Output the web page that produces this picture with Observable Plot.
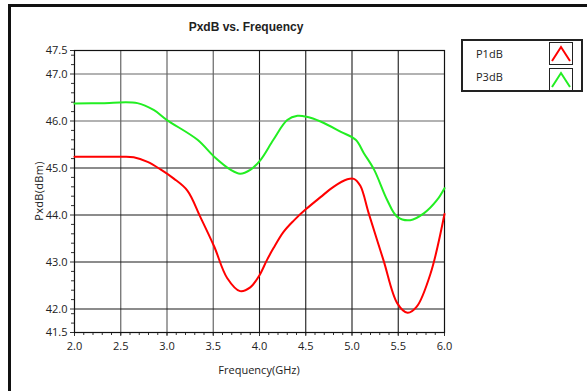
<!DOCTYPE html>
<html>
<head>
<meta charset="utf-8">
<script src="https://cdn.jsdelivr.net/npm/d3@7"></script>
<script src="https://cdn.jsdelivr.net/npm/@observablehq/plot@0.6"></script>
<style>
  html, body { margin: 0; padding: 0; background: #fff; }
  #wrap { position: relative; width: 587px; height: 391px; overflow: hidden; font-family: "Open Sans", "DejaVu Sans", sans-serif; color: #222; }
  #border { position: absolute; left: 8px; top: 4px; width: 600px; height: 400px; border-left: 3px solid #111; border-top: 3px solid #111; box-sizing: border-box; pointer-events: none; }
  .lbl { position: absolute; white-space: nowrap; }
  #title { left: 246px; top: 20px; transform: translateX(-50%); font-weight: bold; font-size: 12px; font-family: "Liberation Sans", Arial, sans-serif; }
  #xlabel { left: 259px; top: 362px; transform: translateX(-50%); font-size: 11px; }
  #ylabel { left: 38px; top: 191px; transform: translate(-50%, -50%) rotate(-90deg); font-size: 11px; letter-spacing: 0.3px; }
  #legend { position: absolute; left: 461px; top: 39px; width: 122px; height: 53px; border: 2px solid #222; box-sizing: border-box; background: #fff; }
  .lrow { position: absolute; left: 13px; font-size: 11px; }
  .icon { position: absolute; left: 86px; width: 24px; height: 23px; border: 1px solid #222; box-sizing: border-box; }
</style>
</head>
<body>
<div id="wrap">
  <div id="chart"></div>
  <div id="border"></div>
  <div id="title" class="lbl">PxdB vs. Frequency</div>
  <div id="xlabel" class="lbl">Frequency(GHz)</div>
  <div id="ylabel" class="lbl">PxdB(dBm)</div>
  <div id="legend"></div>
</div>
<script>
// ---- data ----
const seriesNames = ["P1dB", "P3dB"];
const seriesColors = ["#ff0000", "#22ee22"];

const p1Freq = [2.0, 2.3, 2.5, 2.64, 2.79, 2.93, 3.07, 3.22, 3.36, 3.51, 3.65, 3.79, 3.90, 4.0, 4.08, 4.15, 4.26, 4.37, 4.50, 4.66, 4.80, 4.95, 5.02, 5.09, 5.18, 5.34, 5.49, 5.60, 5.70, 5.85, 6.0];
const p1Vals = [45.24, 45.24, 45.24, 45.23, 45.13, 44.97, 44.78, 44.52, 43.96, 43.33, 42.66, 42.38, 42.46, 42.72, 43.04, 43.29, 43.64, 43.88, 44.12, 44.38, 44.60, 44.76, 44.77, 44.62, 44.04, 43.04, 42.12, 41.92, 42.05, 42.76, 44.02];

const p3Freq = [2.0, 2.3, 2.68, 2.86, 3.0, 3.33, 3.51, 3.69, 3.79, 3.90, 4.01, 4.15, 4.30, 4.41, 4.51, 4.66, 4.88, 5.04, 5.13, 5.24, 5.38, 5.49, 5.63, 5.78, 5.92, 6.0];
const p3Vals = [46.37, 46.38, 46.38, 46.23, 46.02, 45.60, 45.24, 44.96, 44.88, 44.96, 45.17, 45.60, 46.02, 46.11, 46.09, 45.99, 45.77, 45.60, 45.31, 44.96, 44.32, 43.96, 43.89, 44.04, 44.32, 44.57];

const xMajorTicks = [2.0, 2.5, 3.0, 3.5, 4.0, 4.5, 5.0, 5.5, 6.0];
const xMinorTicks = d3.range(20, 61).map(d => d / 10);
const xGridGray = [2.5, 3.0, 3.5];
const xGridDark = [4.0, 4.5, 5.0, 5.5];
const yMajorTicks = [41.5, 42.0, 43.0, 44.0, 45.0, 46.0, 47.0, 47.5];
const yMinorTicks = [41.7, 41.9, 42.2, 42.4, 42.6, 42.8, 43.2, 43.4, 43.6, 43.8, 44.2, 44.4, 44.6, 44.8, 45.2, 45.4, 45.6, 45.8, 46.2, 46.4, 46.6, 46.8, 47.2, 47.4];
const yGridGray = [46.0, 47.0];
const yGridDark = [42.0, 43.0, 44.0, 45.0];

const rows = [
  ...p1Freq.map((f, i) => ({ freq: f, value: p1Vals[i], series: seriesNames[0] })),
  ...p3Freq.map((f, i) => ({ freq: f, value: p3Vals[i], series: seriesNames[1] }))
];

const chart = Plot.plot({
  width: 587,
  height: 391,
  marginLeft: 74,
  marginRight: 143,
  marginTop: 50,
  marginBottom: 59,
  style: { fontFamily: "'Open Sans', 'DejaVu Sans', sans-serif", fontSize: "11px", color: "#222", background: "transparent" },
  x: { domain: [2, 6] },
  y: { domain: [41.5, 47.5] },
  color: { domain: seriesNames, range: seriesColors },
  marks: [
    Plot.gridX(xGridGray, { stroke: "#666", strokeOpacity: 1, strokeWidth: 1.2 }),
    Plot.gridX(xGridDark, { stroke: "#1a1a1a", strokeOpacity: 1, strokeWidth: 1.1 }),
    Plot.gridY(yGridGray, { stroke: "#666", strokeOpacity: 1, strokeWidth: 1.2 }),
    Plot.gridY(yGridDark, { stroke: "#1a1a1a", strokeOpacity: 1, strokeWidth: 1.1 }),
    Plot.axisX(xMinorTicks, { tickSize: 3, tickFormat: () => "", label: null, stroke: "#333" }),
    Plot.axisX(xMajorTicks, { tickSize: 4, tickPadding: 6, tickFormat: d => d.toFixed(1), label: null, stroke: "#333" }),
    Plot.axisY(yMinorTicks, { tickSize: 3, tickFormat: () => "", label: null, stroke: "#333" }),
    Plot.axisY(yMajorTicks, { tickSize: 4, tickPadding: 3, tickFormat: d => d.toFixed(1), label: null, stroke: "#333" }),
    Plot.frame({ stroke: "#111", strokeWidth: 1.2 }),
    Plot.line(rows, { x: "freq", y: "value", z: "series", stroke: "series", strokeWidth: 2, curve: "catmull-rom" })
  ]
});
document.getElementById("chart").appendChild(chart);

// legend
const legend = document.getElementById("legend");
seriesNames.forEach((name, i) => {
  const t = document.createElement("div");
  t.className = "lbl lrow";
  t.style.top = (i === 0 ? 5 : 28) + "px";
  t.textContent = name;
  legend.appendChild(t);
  const ic = document.createElement("div");
  ic.className = "icon";
  ic.style.top = (i === 0 ? 1 : 27) + "px";
  ic.innerHTML = `<svg width="22" height="21"><polyline points="2,18 11,4 20,18" fill="none" stroke="${seriesColors[i]}" stroke-width="2"/></svg>`;
  legend.appendChild(ic);
});
</script>
</body>
</html>
